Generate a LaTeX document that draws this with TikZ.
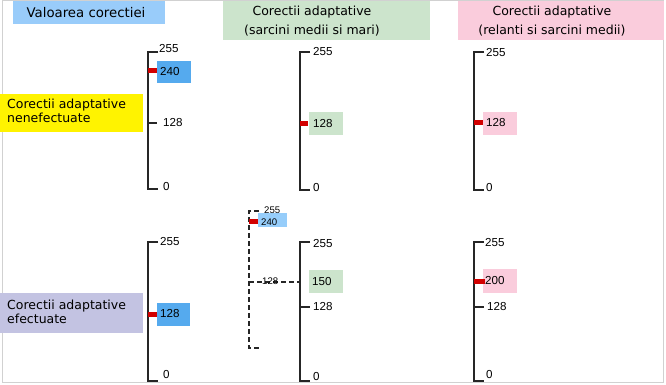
\documentclass[tikz,border=0pt]{standalone}
\usepackage{fontspec}
\setmainfont{Liberation Sans}
\newfontfamily\hdr{DejaVu Sans}
\definecolor{hblue}{RGB}{153,204,250}
\definecolor{vblue}{RGB}{85,170,238}
\definecolor{lblue}{RGB}{150,205,250}
\definecolor{hgreen}{RGB}{204,228,204}
\definecolor{hpink}{RGB}{250,204,220}
\definecolor{hyellow}{RGB}{255,243,0}
\definecolor{hpurple}{RGB}{195,195,226}
\definecolor{redbarc}{RGB}{210,0,0}
\begin{document}
\begin{tikzpicture}[x=1pt,y=-1pt,
  axis/.style={line width=1.6pt, black!85},
  daxis/.style={line width=1.3pt, black!85, dash pattern=on 5pt off 3pt},
  redbar/.style={line width=5pt, redbarc},
  num/.style={font=\fontsize{11.6}{13}\selectfont, inner sep=0pt, anchor=west, text=black},
  smallnum/.style={font=\fontsize{9.6}{10}\selectfont, inner sep=0pt, anchor=west},
  hd/.style={font=\hdr\fontsize{12.5}{19}\selectfont, align=center, inner sep=0pt},
  side/.style={font=\hdr\fontsize{12.5}{13.5}\selectfont, align=left, inner sep=0pt, anchor=west}]
\useasboundingbox (0,0) rectangle (666,385);
\fill[white] (0,0) rectangle (666,385);
\draw[black!18, line width=1pt] (2,1) rectangle (663,382);

% headers
\fill[hblue] (13,1) rectangle (165,24);
\node[hd, font=\hdr\fontsize{13.3}{19}\selectfont] (h1) at (86,13) {Valoarea corectiei};
\fill[hgreen] (223,1) rectangle (430,40);
\node[hd] (h2) at (312,21) {Corectii adaptative\\(sarcini medii si mari)};
\fill[hpink] (458,1) rectangle (664,40);
\node[hd] (h3) at (552,21) {Corectii adaptative\\(relanti si sarcini medii)};

% side labels
\fill[hyellow] (0,94) rectangle (143,132);
\node[side] (y1) at (7,111) {Corectii adaptative\\nenefectuate};
\fill[hpurple] (0,293) rectangle (143,333);
\node[side] (p1) at (7,312) {Corectii adaptative\\efectuate};

% ---------- top row ----------
% scale 1
\coordinate (a1t) at (148,52); \coordinate (a1b) at (148,189);
\fill[vblue] (157,61) rectangle (191,83);
\draw[axis] ([xshift=10pt]a1t) -- (a1t) -- (a1b) -- ([xshift=10pt]a1b);
\coordinate (a1m) at (148,123);
\draw[axis] (a1m) -- ([xshift=9pt]a1m);
\coordinate (a1r) at (148,71);
\draw[redbar] (a1r) -- ([xshift=9pt]a1r);
\node[num] (a1l255) at (159,49) {255};
\node[num] (a1l240) at (160,72) {240};
\node[num] (a1l128) at (163,123) {128};
\node[num] (a1l0) at (163,187) {0};

% scale 2
\coordinate (a2t) at (300,52); \coordinate (a2b) at (300,190);
\fill[hgreen] (309,112) rectangle (343,135);
\draw[axis] ([xshift=10pt]a2t) -- (a2t) -- (a2b) -- ([xshift=10pt]a2b);
\coordinate (a2r) at (300,124);
\draw[redbar] (a2r) -- ([xshift=8pt]a2r);
\node[num] (a2l255) at (313,52) {255};
\node[num] (a2l128) at (313,124) {128};
\node[num] (a2l0) at (313,188) {0};

% scale 3
\coordinate (a3t) at (474,52); \coordinate (a3b) at (474,190);
\fill[hpink] (483,112) rectangle (517,135);
\draw[axis] ([xshift=10pt]a3t) -- (a3t) -- (a3b) -- ([xshift=10pt]a3b);
\coordinate (a3r) at (474,123);
\draw[redbar] (a3r) -- ([xshift=9pt]a3r);
\node[num] (a3l255) at (486,53) {255};
\node[num] (a3l128) at (486,123) {128};
\node[num] (a3l0) at (486,188) {0};

% ---------- bottom row ----------
% scale 1
\coordinate (b1t) at (148,242); \coordinate (b1b) at (148,381);
\fill[vblue] (157,303) rectangle (190,326);
\draw[axis] ([xshift=10pt]b1t) -- (b1t) -- (b1b) -- ([xshift=10pt]b1b);
\coordinate (b1r) at (148,314);
\draw[redbar] (b1r) -- ([xshift=9pt]b1r);
\node[num] (b1l255) at (160,242) {255};
\node[num] (b1l128) at (160,314) {128};
\node[num] (b1l0) at (163,375) {0};

% scale 2 dashed
\coordinate (d2t) at (249,211); \coordinate (d2b) at (249,348);
\fill[lblue] (258,213) rectangle (287,227);
\draw[daxis] ([xshift=10pt]d2t) -- (d2t) -- (d2b) -- ([xshift=11pt]d2b);
\coordinate (d2m) at (249,282);
\coordinate (s2m) at (300,282);
\draw[daxis] (d2m) -- (s2m);
\coordinate (d2r) at (249,221);
\draw[redbar] (d2r) -- ([xshift=9pt]d2r);
\node[smallnum] (d2l255) at (264,210) {255};
\node[smallnum] (d2l240) at (261,222) {240};
\node[smallnum] (d2l128) at (262,281) {128};

% scale 2 solid
\coordinate (b2t) at (300,242); \coordinate (b2b) at (300,381);
\fill[hgreen] (309,270) rectangle (343,293);
\draw[axis] ([xshift=10pt]b2t) -- (b2t) -- (b2b) -- ([xshift=10pt]b2b);
\coordinate (b2m) at (300,307);
\draw[axis] (b2m) -- ([xshift=10pt]b2m);
\node[num] (b2l255) at (313,244) {255};
\node[num] (b2l150) at (312,282) {150};
\node[num] (b2l128) at (313,307) {128};
\node[num] (b2l0) at (313,377) {0};

% scale 3
\coordinate (b3t) at (474,242); \coordinate (b3b) at (474,381);
\fill[hpink] (483,269) rectangle (517,293);
\draw[axis] ([xshift=10pt]b3t) -- (b3t) -- (b3b) -- ([xshift=10pt]b3b);
\coordinate (b3m) at (474,307);
\draw[axis] (b3m) -- ([xshift=10pt]b3m);
\coordinate (b3r) at (474,281);
\draw[redbar] (b3r) -- ([xshift=11pt]b3r);
\node[num] (b3l255) at (485,243) {255};
\node[num] (b3l200) at (485,281) {200};
\node[num] (b3l128) at (487,307) {128};
\node[num] (b3l0) at (486,375) {0};
\end{tikzpicture}
\end{document}
